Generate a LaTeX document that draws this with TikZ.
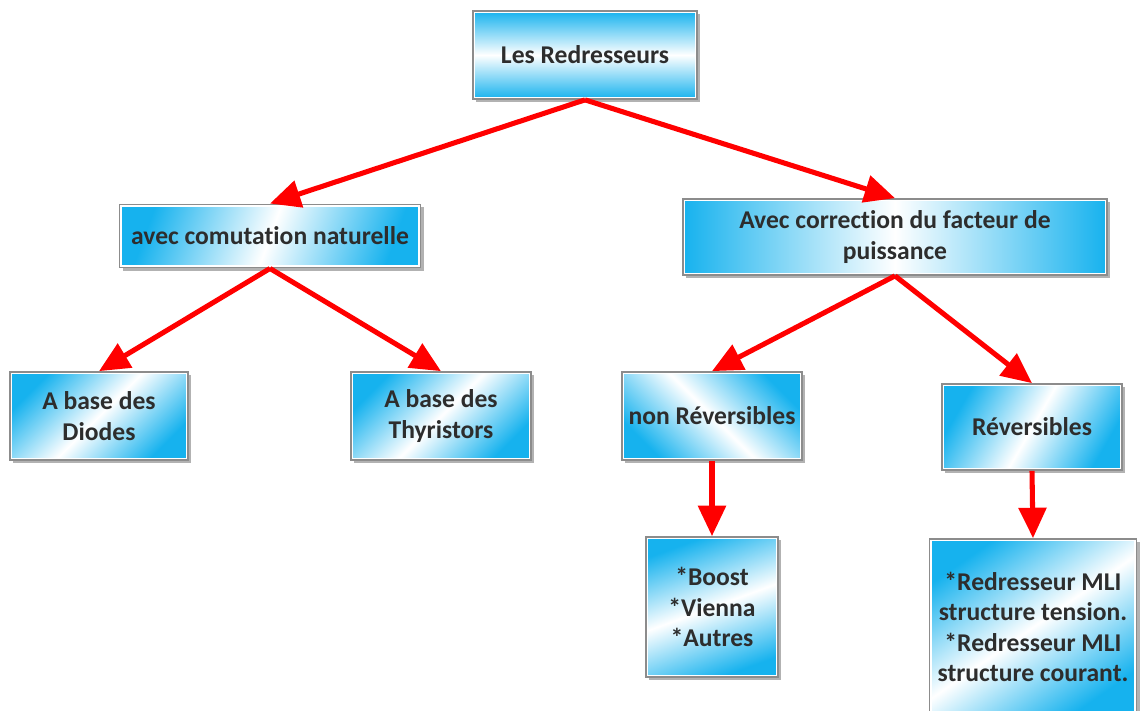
\documentclass[tikz,border=0pt]{standalone}
\usepackage{fontspec}
\setmainfont{Carlito}[Ligatures={NoCommon}]
\usetikzlibrary{arrows.meta,shadows}

\definecolor{boiteBleu}{RGB}{22,178,238}
\definecolor{boiteBord}{RGB}{140,140,140}
\definecolor{texteGris}{RGB}{45,45,45}

\tikzset{
  boite/.style={rectangle, draw=boiteBord, line width=1.2pt, inner sep=0pt,
    top color=boiteBleu, bottom color=boiteBleu, middle color=white, shading angle=45,
    align=center, text=texteGris, font=\fontsize{18.2}{21.5}\selectfont\bfseries,
    drop shadow={shadow xshift=2.2pt, shadow yshift=-2.2pt, fill=black!55, opacity=.55},
    path picture={\draw[white, line width=3.2pt] (path picture bounding box.south west) rectangle (path picture bounding box.north east);}},
  fleche/.style={draw=red, line width=3.6pt, -{Triangle[length=0.76cm, width=0.68cm]}}
}

\begin{document}
\begin{tikzpicture}
% one unit is one pixel of the 1140x711 sketch, y going down
\def\pxsz{0.025cm}
\begin{scope}[x=\pxsz, y=-\pxsz]
  \useasboundingbox (0,0) rectangle (1140,711);
  % Boxes
  \node[boite, shading angle=0, minimum width=5.6cm, minimum height=2.2cm] (red) at (585,55) {Les Redresseurs};
  \node[boite, shading angle=70, minimum width=7.52cm, minimum height=1.58cm] (nat) at (270,236) {avec comutation naturelle};
  \node[boite, shading angle=90, minimum width=10.6cm, minimum height=1.9cm] (pfc) at (895,237) {Avec correction du facteur de\\puissance};
  \node[boite, minimum width=4.45cm, minimum height=2.2cm] (dio) at (99,416) {A base des\\Diodes};
  \node[boite, minimum width=4.5cm, minimum height=2.2cm] (thy) at (441,416) {A base des\\Thyristors};
  \node[boite, shading angle=-45, minimum width=4.5cm, minimum height=2.2cm] (nrev) at (712,416) {non Réversibles};
  \node[boite, shading angle=60, minimum width=4.5cm, minimum height=2.15cm] (rev) at (1032,427) {Réversibles};
  \node[boite, shading angle=20, minimum width=3.3cm, minimum height=3.5cm] (boost) at (712,607) {*Boost\\*Vienna\\*Autres};
  \node[boite, shading angle=35, minimum width=5.18cm, minimum height=4.4cm] (mli) at (1033,627) {*Redresseur MLI\\structure tension.\\*Redresseur MLI\\structure courant.};
  % Arrows
  \draw[fleche] (red.south) -- (nat.north);
  \draw[fleche] (red.south) -- (pfc.north);
  \draw[fleche] (nat.south) -- (dio.north);
  \draw[fleche] (nat.south) -- (thy.north);
  \draw[fleche] (pfc.south) -- (nrev.north);
  \draw[fleche] (pfc.south) -- (rev.north);
  \draw[fleche] (nrev.south) -- (boost.north);
  \draw[fleche] (rev.south) -- (mli.north);
\end{scope}
\end{tikzpicture}
\end{document}
